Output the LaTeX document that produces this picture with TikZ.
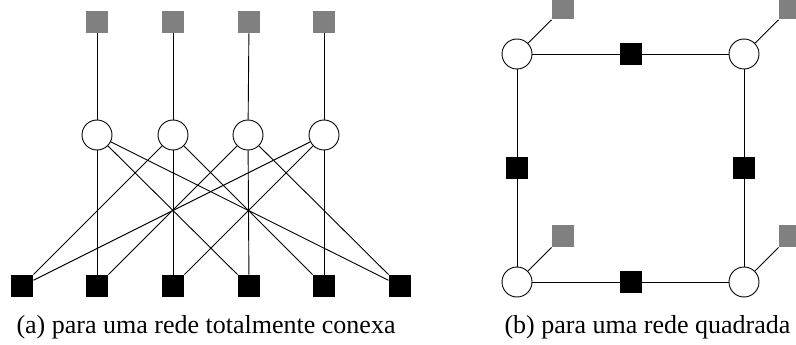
\documentclass[tikz,border=0pt]{standalone}
\usepackage{fontspec}
\setmainfont{Liberation Serif}
\begin{document}
\begin{tikzpicture}[x=1pt,y=-1pt,line width=0.9pt,
  var/.style={circle,draw=black,fill=white,minimum size=30pt,inner sep=0pt},
  factor/.style={rectangle,fill=black,minimum size=22pt,inner sep=0pt},
  evidence/.style={rectangle,fill=gray,minimum size=22pt,inner sep=0pt},
  caption/.style={anchor=base,inner sep=0pt,font=\fontsize{26}{30}\selectfont}]
\clip (0,0) rectangle (796,345);
\useasboundingbox (0,0) rectangle (796,345);

% fully connected network
\node[evidence] (g1) at (97,22) {};
\node[evidence] (g2) at (173,22) {};
\node[evidence] (g3) at (249,22) {};
\node[evidence] (g4) at (324,22) {};
\node[var] (c1) at (97,135) {};
\node[var] (c2) at (173,135) {};
\node[var] (c3) at (248,135) {};
\node[var] (c4) at (324,135) {};
\node[factor] (f1) at (22,286) {};
\node[factor] (f2) at (97,286) {};
\node[factor] (f3) at (173,286) {};
\node[factor] (f4) at (249,286) {};
\node[factor] (f5) at (324,286) {};
\node[factor] (f6) at (400,286) {};
\foreach \i in {1,...,4} \draw (g\i) -- (c\i);
\draw (c1) -- (f2); \draw (c1) -- (f4); \draw (c1) -- (f6);
\draw (c2) -- (f1); \draw (c2) -- (f3); \draw (c2) -- (f5);
\draw (c3) -- (f2); \draw (c3) -- (f4); \draw (c3) -- (f6);
\draw (c4) -- (f1); \draw (c4) -- (f3); \draw (c4) -- (f5);

% square lattice
\node[var] (a) at (517,54) {};
\node[var] (b) at (744,54) {};
\node[var] (c) at (517,282) {};
\node[var] (d) at (744,282) {};
\node[factor] (ft) at (631,54) {};
\node[factor] (fl) at (517,168) {};
\node[factor] (fr) at (744,168) {};
\node[factor] (fb) at (631,282) {};
\node[evidence] (ea) at (563,8.5) {};
\node[evidence] (eb) at (790,8.5) {};
\node[evidence] (ec) at (563,236) {};
\node[evidence] (ed) at (790,236) {};
\draw (a) -- (ft) -- (b);
\draw (a) -- (fl) -- (c);
\draw (b) -- (fr) -- (d);
\draw (c) -- (fb) -- (d);
\draw (a) -- (ea);
\draw (b) -- (eb);
\draw (c) -- (ec);
\draw (d) -- (ed);

% captions
\node[caption] (capa) at (206,333) {(a) para uma rede totalmente conexa};
\node[caption] (capb) at (647.5,333) {(b) para uma rede quadrada};
\end{tikzpicture}
\end{document}
